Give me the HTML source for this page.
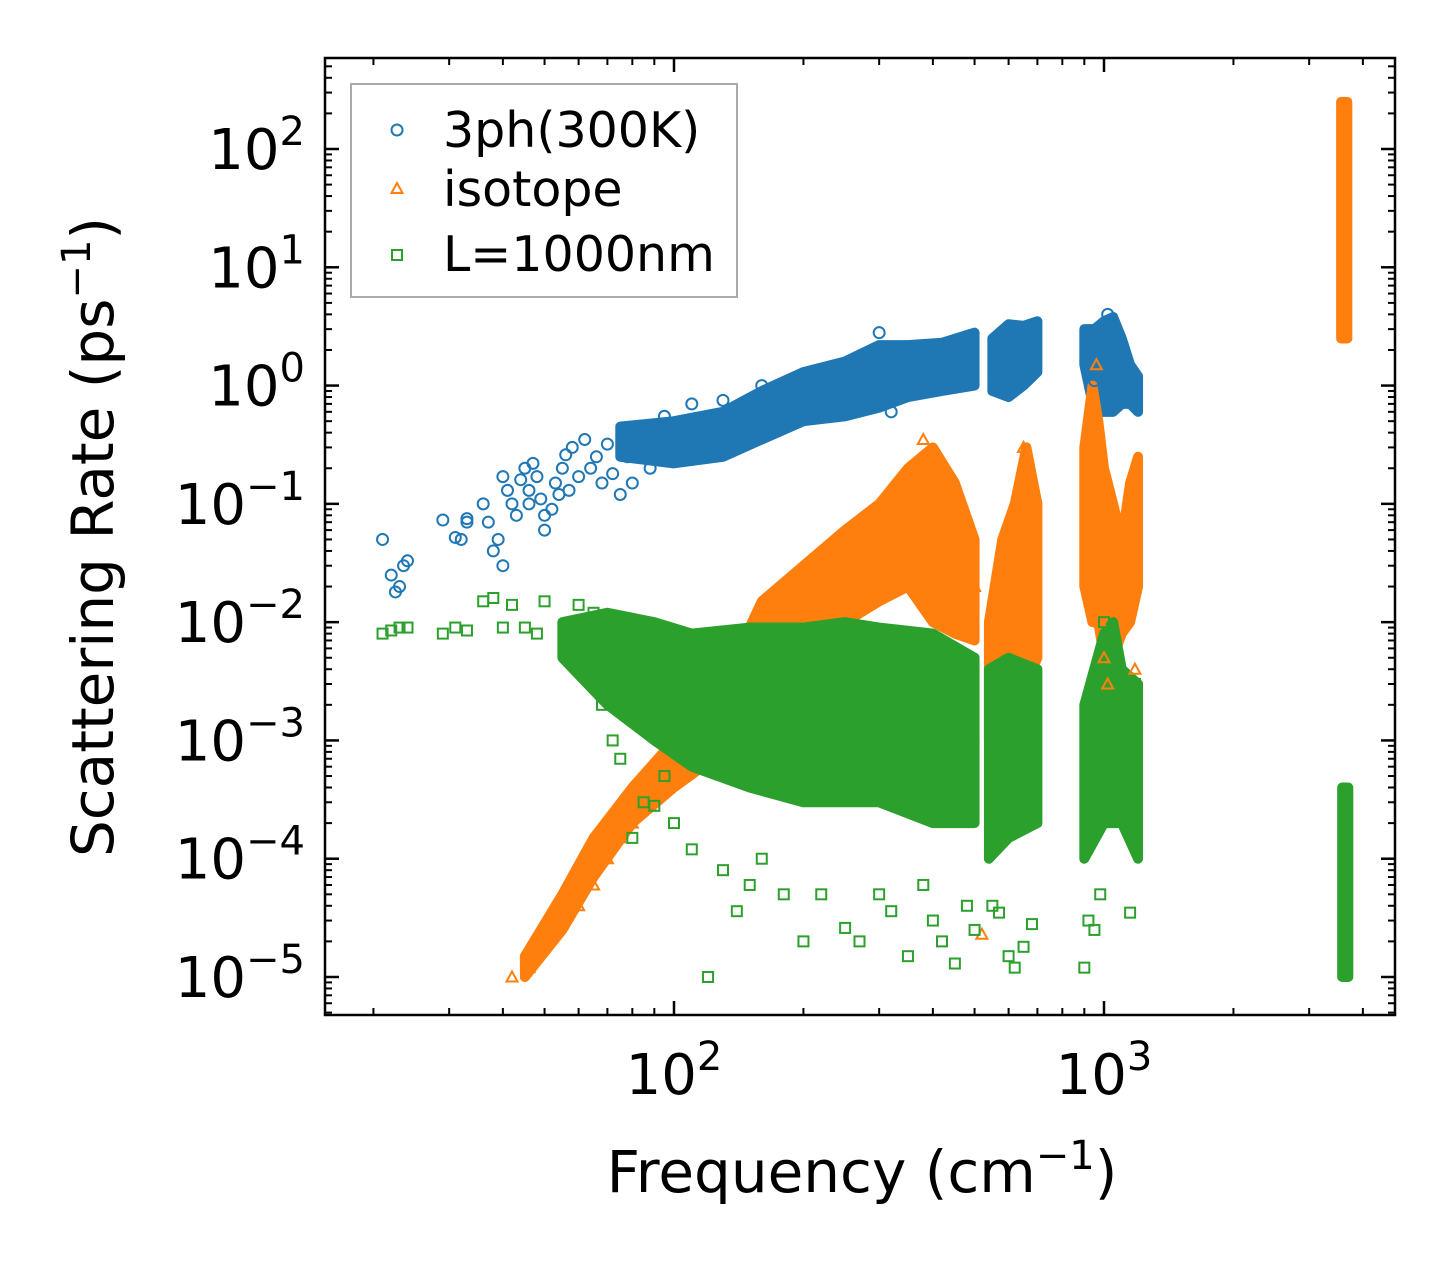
<!DOCTYPE html>
<html><head><meta charset="utf-8"><style>
body{margin:0;background:#fff}
svg{display:block;font-family:"DejaVu Sans","Liberation Sans",sans-serif}
</style></head><body>
<svg id="chart" width="1455" height="1265" viewBox="0 0 1455 1265">
<rect width="1455" height="1265" fill="#fff"/>
<g id="bands"></g><g id="marks"></g><g id="axes"></g>
<text x="862" y="1192" font-size="58" text-anchor="middle">Frequency (cm<tspan font-size="40" dy="-23">−1</tspan><tspan dy="23">)</tspan></text>
<text transform="translate(113,537) rotate(-90)" font-size="58" text-anchor="middle">Scattering Rate (ps<tspan font-size="40" dy="-23">−1</tspan><tspan dy="23">)</tspan></text>
<g>
<rect x="351" y="84" width="386" height="213" fill="#fff" stroke="#aaa" stroke-width="2"/>
<circle cx="397" cy="130" r="5.5" fill="none" stroke="#1f77b4" stroke-width="2"/>
<text x="443" y="147" font-size="49">3ph(300K)</text>
<polygon points="397,183 402.5,193 391.5,193" fill="none" stroke="#ff7f0e" stroke-width="2"/>
<text x="443" y="206" font-size="49">isotope</text>
<rect x="392" y="250" width="10" height="10" fill="none" stroke="#2ca02c" stroke-width="2"/>
<text x="443" y="271" font-size="49">L=1000nm</text>
</g>
</svg>
<script>
// ---- data ----
const xTicks=[100,1000];
const yTicks=[-5,-4,-3,-2,-1,0,1,2];
const blueBandF=[75,100,130,160,200,250,300,350,420,500,NaN,550,600,650,700,NaN,900,950,1000,1050,1100,1150,1200];
const blueBandLo=[0.25,0.22,0.25,0.35,0.5,0.55,0.65,0.8,0.9,1.0,NaN,0.9,0.8,1.0,1.3,NaN,1.5,0.6,0.6,0.6,0.7,0.7,0.6];
const blueBandHi=[0.45,0.5,0.6,0.9,1.3,1.6,2.2,2.2,2.3,2.8,NaN,2.5,3.3,3.2,3.5,NaN,3,3,3.5,3.8,2.5,1.5,1.2];
const orangeBandF=[45,55,65,80,100,130,160,200,250,300,350,400,450,500,NaN,540,580,620,660,700,NaN,900,940,970,1000,1050,1100,1150,1200,NaN,3560,3680];
const orangeBandLo=[1e-5,2.5e-5,7e-5,2e-4,4e-4,8e-4,2e-3,5e-3,1e-2,1.5e-2,2e-2,1e-2,8e-3,7e-3,NaN,1e-3,2e-3,3e-3,3e-3,5e-3,NaN,0.02,0.01,0.01,0.005,0.005,0.008,0.01,0.02,NaN,2.5,2.5];
const orangeBandHi=[1.5e-5,5e-5,1.5e-4,4e-4,1e-3,3e-3,1.5e-2,3e-2,6e-2,0.1,0.2,0.3,0.15,0.05,NaN,0.01,0.05,0.1,0.3,0.1,NaN,0.3,1,0.5,0.2,0.1,0.05,0.15,0.25,NaN,250,250];
const greenBandF=[55,70,90,110,150,200,250,300,400,500,NaN,540,600,700,NaN,900,1000,1050,1100,1200,NaN,3580,3700];
const greenBandLo=[0.005,0.002,0.001,6e-4,4e-4,3e-4,3e-4,3e-4,2e-4,2e-4,NaN,1e-4,1.5e-4,2e-4,NaN,1e-4,2e-4,2e-4,2e-4,1e-4,NaN,1e-5,1e-5];
const greenBandHi=[0.01,0.012,0.01,0.008,0.009,0.009,0.01,0.009,0.008,0.005,NaN,0.004,0.005,0.004,NaN,0.002,0.008,0.01,0.004,0.003,NaN,4e-4,4e-4];
const blueF=[21,22,22.5,23,23.5,24,29,31,32,33,33,36,37,38,39,40,40,41,42,43,44,45,46,46,47,48,49,50,50,52,53,54,55,56,57,58,60,62,64,66,68,70,72,75,78,80,85,88,95,110,130,160,300,320,950,1020,1050];
const blueR=[0.05,0.025,0.018,0.02,0.03,0.033,0.073,0.052,0.05,0.07,0.075,0.1,0.07,0.04,0.05,0.17,0.03,0.13,0.1,0.08,0.16,0.2,0.13,0.1,0.22,0.17,0.11,0.08,0.06,0.09,0.15,0.12,0.2,0.26,0.13,0.3,0.17,0.35,0.2,0.25,0.15,0.32,0.18,0.12,0.25,0.15,0.35,0.2,0.55,0.7,0.75,1.0,2.8,0.6,1.1,4,0.8];
const orangeF=[42,46,48,50,55,60,65,70,75,80,88,380,420,460,480,500,520,650,680,690,930,960,980,1000,1020,1180,3620,3600,3640];
const orangeR=[1e-5,1.2e-5,1.5e-5,2e-5,3e-5,4e-5,6e-5,1e-4,1.5e-4,2e-4,2.8e-4,0.35,0.2,0.05,0.02,0.02,2.3e-5,0.3,0.02,0.03,0.015,1.5,0.01,0.005,0.003,0.004,12,8,2.7];
const greenF=[21,22,23,24,29,31,33,36,38,40,42,45,48,50,60,65,68,72,75,80,85,90,95,100,110,120,130,140,150,160,180,200,220,250,270,300,320,350,380,400,420,450,480,500,550,570,600,620,650,680,900,920,950,980,1000,1150,1180];
const greenR=[0.008,0.0085,0.009,0.009,0.008,0.009,0.0085,0.015,0.016,0.009,0.014,0.009,0.008,0.015,0.014,0.012,0.002,0.001,0.0007,0.00015,0.0003,0.00028,0.0005,0.0002,0.00012,1e-5,8e-5,3.6e-5,6e-5,1e-4,5e-5,2e-5,5e-5,2.6e-5,2e-5,5e-5,3.6e-5,1.5e-5,6e-5,3e-5,2e-5,1.3e-5,4e-5,2.5e-5,4e-5,3.5e-5,1.5e-5,1.2e-5,1.8e-5,2.8e-5,1.2e-5,3e-5,2.5e-5,5e-5,0.01,3.5e-5,0.003];

const X0=325,X1=1395,Y0=58,Y1=1015;
const xDec=430, xRef=674;
const yDec=828/7, yRef=149;
function xs(f){return xRef+(Math.log10(f)-2)*xDec;}
function ys(v){return yRef-(Math.log10(v)-2)*yDec;}
const NS="http://www.w3.org/2000/svg";
function mk(tag,attrs,parent){const e=document.createElementNS(NS,tag);for(const k in attrs)e.setAttribute(k,attrs[k]);parent.appendChild(e);return e;}
const bandsG=document.getElementById('bands'),marksG=document.getElementById('marks'),axesG=document.getElementById('axes');
const C={blue:'#1f77b4',orange:'#ff7f0e',green:'#2ca02c'};

function drawBand(F,Lo,Hi,col,name){
  let seg=[];const segs=[];
  for(let i=0;i<=F.length;i++){
    if(i===F.length||isNaN(F[i])){if(seg.length)segs.push(seg);seg=[];}
    else seg.push(i);
  }
  segs.forEach((s,k)=>{
    const pts=s.map(i=>xs(F[i])+','+ys(Hi[i])).concat(s.slice().reverse().map(i=>xs(F[i])+','+ys(Lo[i])));
    const p=mk('polygon',{points:pts.join(' '),fill:col,stroke:col,'stroke-width':10,'stroke-linejoin':'round'},bandsG);
    
    
  });
}
drawBand(blueBandF,blueBandLo,blueBandHi,C.blue,'3ph');
drawBand(orangeBandF,orangeBandLo,orangeBandHi,C.orange,'isotope');
drawBand(greenBandF,greenBandLo,greenBandHi,C.green,'boundary');

function drawPts(F,R,col,shape,name){
  F.forEach((f,i)=>{
    const x=xs(f),y=ys(R[i]);let e;
    if(shape==='c')e=mk('circle',{cx:x,cy:y,r:5.5,fill:'none',stroke:col,'stroke-width':2},marksG);
    else if(shape==='t')e=mk('polygon',{points:`${x},${y-5.5} ${x+5.5},${y+4.5} ${x-5.5},${y+4.5}`,fill:'none',stroke:col,'stroke-width':2},marksG);
    else e=mk('rect',{x:x-5,y:y-5,width:10,height:10,fill:'none',stroke:col,'stroke-width':2},marksG);
    
    
  });
}
drawPts(blueF,blueR,C.blue,'c','3ph');
drawPts(orangeF,orangeR,C.orange,'t','isotope');
drawPts(greenF,greenR,C.green,'s','boundary');

const fr=mk('rect',{x:X0,y:Y0,width:X1-X0,height:Y1-Y0,fill:'none',stroke:'#000','stroke-width':2.5},axesG);


for(let d=1;d<=3;d++)for(let m=1;m<10;m++){
  const f=m*Math.pow(10,d),x=xs(f);if(x<X0||x>X1)continue;
  const L=m===1?14:7;
  mk('line',{x1:x,y1:Y1,x2:x,y2:Y1-L,stroke:'#000','stroke-width':m===1?2.5:2},axesG);
  mk('line',{x1:x,y1:Y0,x2:x,y2:Y0+L,stroke:'#000','stroke-width':m===1?2.5:2},axesG);
}
xTicks.forEach(f=>{
  const t=mk('text',{x:xs(f),y:1094,'font-size':56,'text-anchor':'middle'},axesG);
  
  
  t.innerHTML='10<tspan font-size="40" dy="-24">'+Math.log10(f)+'</tspan>';
});
for(let d=-6;d<=2;d++)for(let m=1;m<10;m++){
  const v=m*Math.pow(10,d),y=ys(v);if(y<Y0||y>Y1)continue;
  const L=m===1?14:7;
  mk('line',{x1:X0,y1:y,x2:X0+L,y2:y,stroke:'#000','stroke-width':m===1?2.5:2},axesG);
  mk('line',{x1:X1,y1:y,x2:X1-L,y2:y,stroke:'#000','stroke-width':m===1?2.5:2},axesG);
}
yTicks.forEach(p=>{
  const y=ys(Math.pow(10,p));
  const t=mk('text',{x:305,y:y+20,'font-size':56,'text-anchor':'end'},axesG);
  
  
  t.innerHTML='10<tspan font-size="40" dy="-24">'+(p<0?'−'+(-p):p)+'</tspan>';
});
</script>
</body></html>
